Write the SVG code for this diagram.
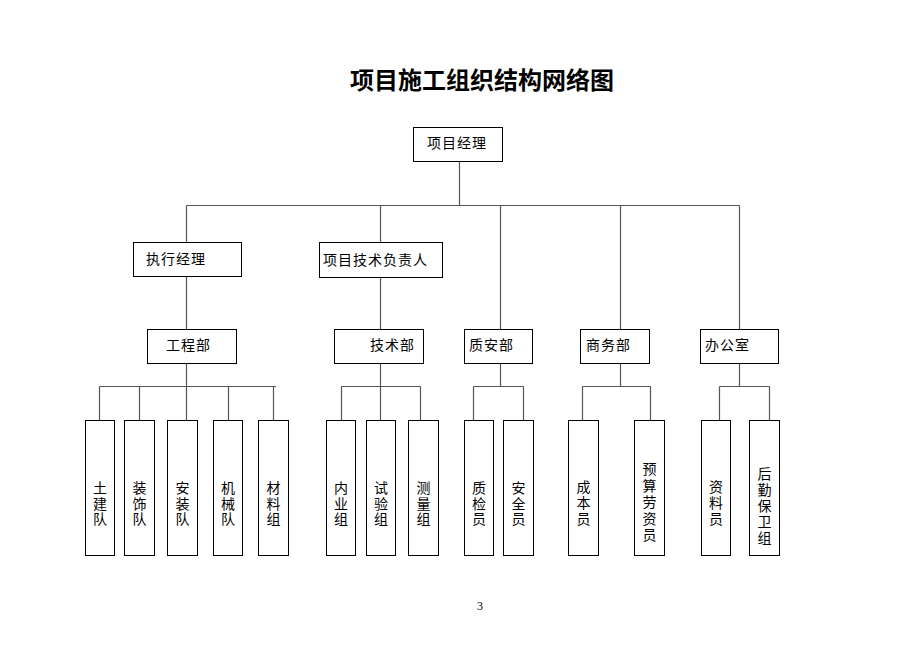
<svg xmlns="http://www.w3.org/2000/svg" width="920" height="651" viewBox="0 0 920 651">
<style>
.bg{fill:#fff}
.box{fill:#fff;stroke:#000;stroke-width:1}
.ln{fill:none;stroke:#555;stroke-width:1.2}
.t{font-family:"Noto Sans CJK SC","Noto Sans CJK JP",sans-serif;font-size:14px;fill:#000;letter-spacing:1px}
.v{font-family:"Noto Sans CJK SC","Noto Sans CJK JP",sans-serif;font-size:14px;fill:#000;writing-mode:vertical-rl;letter-spacing:1.5px}
.v2{letter-spacing:2px}
.v3{letter-spacing:2.5px}
.title{font-family:"Noto Sans CJK SC","Noto Sans CJK JP",sans-serif;font-size:24px;font-weight:bold;fill:#000;text-anchor:middle}
.pg{font-family:"Liberation Serif",serif;font-size:12px;fill:#000;text-anchor:middle}
</style>
<rect class="bg" x="0" y="0" width="920" height="651"/>
<text class="title" x="482" y="89">项目施工组织结构网络图</text>

<g id="connectors">
<path class="ln" d="M459.5,161 V205.5 M186.5,205.5 H739.5 M186.5,205.5 V242 M380.5,205.5 V242 M500.5,205.5 V329 M620.5,205.5 V329 M739.5,205.5 V329"/>
<path class="ln" d="M186.5,276 V329 M380.5,277 V329"/>
<path class="ln" d="M186.5,363 V420 M99.5,386.5 H276 M99.5,386.5 V420 M139.5,386.5 V420 M228.5,386.5 V420 M273.5,386.5 V420"/>
<path class="ln" d="M380.5,363 V420 M341.5,386.5 H420.5 M341.5,386.5 V420 M420.5,386.5 V420"/>
<path class="ln" d="M500.5,363 V386.5 M473.5,386.5 H523.5 M473.5,386.5 V420 M523.5,386.5 V420"/>
<path class="ln" d="M620.5,363 V386.5 M582.5,386.5 H650.5 M582.5,386.5 V420 M650.5,386.5 V420"/>
<path class="ln" d="M739.5,363 V386.5 M719.5,386.5 H769.5 M719.5,386.5 V420 M769.5,386.5 V420"/>
</g>

<g id="pm"><rect class="box" x="413.5" y="127.5" width="89" height="34"/><text class="t" x="427" y="148">项目经理</text></g>
<g id="exec"><rect class="box" x="133.5" y="242.5" width="108" height="34"/><text class="t" x="146" y="264">执行经理</text></g>
<g id="tech-lead"><rect class="box" x="319.5" y="242.5" width="123" height="35"/><text class="t" x="323" y="265">项目技术负责人</text></g>

<g id="eng"><rect class="box" x="147.5" y="329.5" width="89" height="34"/><text class="t" x="166" y="350">工程部</text></g>
<g id="techdept"><rect class="box" x="334.5" y="329.5" width="89" height="34"/><text class="t" x="370" y="350">技术部</text></g>
<g id="qs"><rect class="box" x="464.5" y="329.5" width="68" height="34"/><text class="t" x="469" y="350">质安部</text></g>
<g id="biz"><rect class="box" x="580.5" y="329.5" width="69" height="34"/><text class="t" x="586" y="350">商务部</text></g>
<g id="office"><rect class="box" x="700.5" y="329.5" width="78" height="34"/><text class="t" x="705" y="350">办公室</text></g>

<g id="n1"><rect class="box" x="85.5" y="420.5" width="29" height="135"/><text class="v" x="100" y="481">土建队</text></g>
<g id="n2"><rect class="box" x="124.5" y="420.5" width="30" height="135"/><text class="v" x="139.5" y="481">装饰队</text></g>
<g id="n3"><rect class="box" x="167.5" y="420.5" width="30" height="135"/><text class="v" x="182.5" y="481">安装队</text></g>
<g id="n4"><rect class="box" x="213.5" y="420.5" width="29" height="135"/><text class="v" x="228" y="481">机械队</text></g>
<g id="n5"><rect class="box" x="258.5" y="420.5" width="30" height="135"/><text class="v" x="273.5" y="481">材料组</text></g>

<g id="n6"><rect class="box" x="326.5" y="420.5" width="29" height="135"/><text class="v" x="341" y="481">内业组</text></g>
<g id="n7"><rect class="box" x="366.5" y="420.5" width="29" height="135"/><text class="v" x="381" y="481">试验组</text></g>
<g id="n8"><rect class="box" x="408.5" y="420.5" width="30" height="135"/><text class="v" x="423.5" y="481">测量组</text></g>

<g id="n9"><rect class="box" x="464.5" y="420.5" width="29" height="135"/><text class="v" x="479" y="481">质检员</text></g>
<g id="n10"><rect class="box" x="503.5" y="420.5" width="30" height="135"/><text class="v" x="518.5" y="481">安全员</text></g>

<g id="n11"><rect class="box" x="568.5" y="420.5" width="30" height="135"/><text class="v v2" x="583.5" y="480">成本员</text></g>
<g id="n12"><rect class="box" x="634.5" y="420.5" width="30" height="135"/><text class="v v3" x="649.5" y="462">预算劳资员</text></g>

<g id="n13"><rect class="box" x="701.5" y="420.5" width="29" height="135"/><text class="v v2" x="716" y="480">资料员</text></g>
<g id="n14"><rect class="box" x="749.5" y="420.5" width="30" height="135"/><text class="v v2" x="764.5" y="467">后勤保卫组</text></g>

<text class="pg" x="480" y="610">3</text>
</svg>
